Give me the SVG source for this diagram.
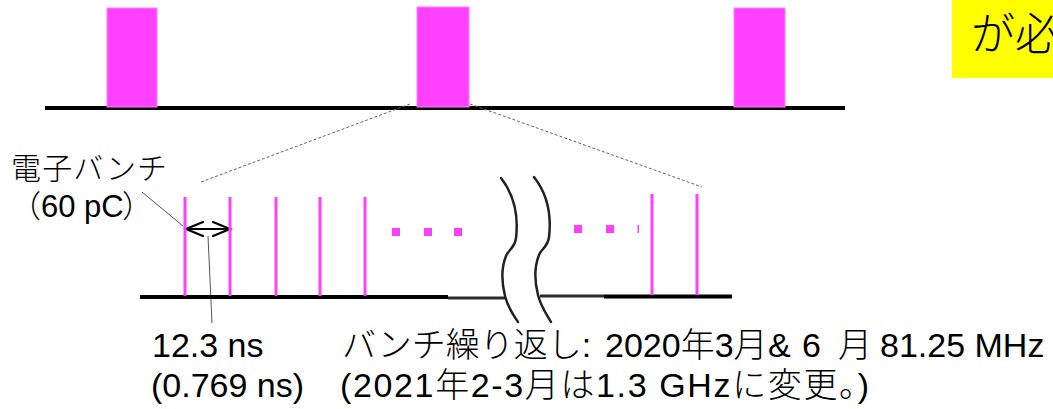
<svg xmlns="http://www.w3.org/2000/svg" width="1053" height="409" viewBox="0 0 1053 409">
<style>
.t{font-family:"Liberation Sans","Noto Sans CJK JP",sans-serif;fill:#000;font-weight:300;}
.pulse{fill:#ff40ff;stroke:#ff80ff;stroke-width:1;}
.bunch{stroke:#ff40ff;stroke-width:3;}
.dot{fill:#ff40ff;}
.base{stroke:#000;stroke-width:4;fill:none;}
.dash{stroke:#666;stroke-width:1;stroke-dasharray:3 2;fill:none;}
.lead{stroke:#555;stroke-width:1;fill:none;}
.wave{stroke:#222;stroke-width:2.5;fill:none;stroke-linecap:round;}
</style>
<rect width="1053" height="409" fill="#fff"/>

<g id="note-box">
<rect x="952" y="0" width="101" height="78" fill="#ffff00"/>
<text class="t" x="971" y="50" font-size="44">が必</text>
</g>

<g id="macro-pulses">
<line class="base" x1="45" y1="108" x2="845" y2="108" stroke-width="3.5"/>
<rect class="pulse" x="107" y="8" width="50" height="99"/>
<rect class="pulse" x="417" y="7" width="52" height="100"/>
<rect class="pulse" x="734" y="8" width="51" height="99"/>
</g>

<g id="connectors">
<line class="dash" x1="410" y1="104" x2="201" y2="182"/>
<line class="dash" x1="470" y1="104" x2="702" y2="187"/>
<line class="lead" x1="142" y1="192" x2="183" y2="226"/>
<line class="lead" x1="208" y1="236" x2="212" y2="323"/>
<g stroke="#000" stroke-width="2.2" fill="none" stroke-linecap="round">
<line x1="186" y1="229" x2="230" y2="229"/>
<polyline points="203,222 186,229 203,236"/>
<polyline points="213,222 230,229 213,236"/>
</g>
</g>

<g id="bunch-train">
<line class="base" x1="140" y1="297" x2="448" y2="297"/>
<line x1="448" y1="298" x2="506" y2="298" stroke="#2a2a2a" stroke-width="3.2"/>
<line x1="540" y1="296" x2="604" y2="296" stroke="#2a2a2a" stroke-width="3.2"/>
<line class="base" x1="604" y1="296.5" x2="732" y2="296.5"/>
<line class="bunch" x1="185" y1="197" x2="185" y2="296"/>
<line class="bunch" x1="230" y1="197" x2="230" y2="296"/>
<line class="bunch" x1="276" y1="197" x2="276" y2="296"/>
<line class="bunch" x1="320" y1="197" x2="320" y2="296"/>
<line class="bunch" x1="365" y1="197" x2="365" y2="296"/>
<line class="bunch" x1="652" y1="194" x2="652" y2="295"/>
<line class="bunch" x1="697" y1="194" x2="697" y2="295"/>
<rect class="dot" x="392" y="228" width="8" height="8"/>
<rect class="dot" x="424" y="228" width="8" height="8"/>
<rect class="dot" x="454" y="228" width="8" height="8"/>
<rect class="dot" x="574" y="225" width="8" height="8"/>
<rect class="dot" x="606" y="225" width="8" height="8"/>
<rect class="dot" x="637.5" y="225" width="1.5" height="8"/>
</g>

<g id="break-mark">
<path class="wave" d="M501 178 C512 192 519 212 516 238 C515 248 508 250 506 256 C502 266 501 280 505 296 C508 308 514 316 518 322"/>
<path class="wave" d="M534 177 C545 191 552 211 549 237 C548 247 541 249 539 255 C535 265 534 279 538 295 C541 307 547 315 551 322"/>
</g>

<g id="label-bunch">
<text class="t" x="11" y="179" font-size="30" textLength="156" lengthAdjust="spacing">電子バンチ</text>
<text class="t" font-size="31" y="217"><tspan x="10">（</tspan><tspan x="41">60 pC</tspan><tspan x="122">）</tspan></text>
</g>

<g id="label-spacing">
<text class="t" x="152" y="357" font-size="34">12.3 ns</text>
<text class="t" x="151" y="397" font-size="34">(0.769 ns)</text>
</g>

<g id="label-repetition">
<text class="t" y="357" font-size="34"><tspan x="342">バンチ繰り返し: </tspan><tspan x="605">2020年3月</tspan><tspan x="768">&amp; </tspan><tspan x="802">6 </tspan><tspan x="838">月 </tspan><tspan x="880">81.25 MHz</tspan></text>
<text class="t" x="340" y="397" font-size="34" textLength="529" lengthAdjust="spacing">(2021年2-3月は1.3 GHzに変更。)</text>
</g>
</svg>
